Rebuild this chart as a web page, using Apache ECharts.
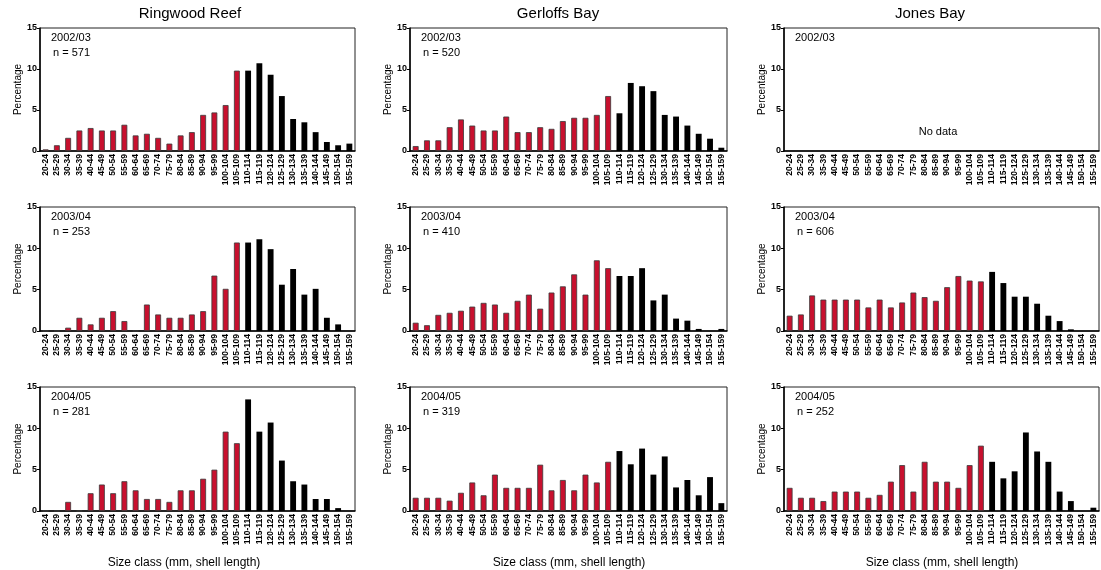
<!DOCTYPE html>
<html><head><meta charset="utf-8">
<script src="https://cdn.jsdelivr.net/npm/echarts@6/dist/echarts.min.js"></script>
<style>html,body{margin:0;padding:0;background:#fff}#c{width:1101px;height:570px}</style>
</head><body><div id="c"></div>
<script>
const categories = ['20-24','25-29','30-34','35-39','40-44','45-49','50-54','55-59','60-64','65-69','70-74','75-79','80-84','85-89','90-94','95-99','100-104','105-109','110-114','115-119','120-124','125-129','130-134','135-139','140-144','145-149','150-154','155-159'];
const sites = ['Ringwood Reef','Gerloffs Bay','Jones Bay'];
const seasons = ['2002/03','2003/04','2004/05'];
const yTicks = [0,5,10,15];
const xName = 'Size class (mm, shell length)';
const blackFrom = '110-114';

const ringwood0203 = [0.2,0.7,1.6,2.5,2.8,2.5,2.5,3.2,1.9,2.1,1.6,0.9,1.9,2.3,4.4,4.7,5.6,9.8,9.8,10.7,9.3,6.7,3.9,3.5,2.3,1.1,0.7,0.9];
const gerloffs0203 = [0.6,1.3,1.3,2.9,3.85,3.1,2.5,2.5,4.2,2.3,2.3,2.9,2.7,3.65,4.05,4.05,4.4,6.7,4.6,8.3,7.9,7.3,4.4,4.2,3.1,2.1,1.5,0.4];
const jones0203 = [];
const ringwood0304 = [0,0,0.4,1.6,0.8,1.6,2.4,1.2,0,3.2,2.0,1.6,1.6,2.0,2.4,6.7,5.1,10.7,10.7,11.1,9.9,5.6,7.5,4.4,5.1,1.6,0.8,0];
const gerloffs0304 = [1.0,0.7,1.95,2.2,2.45,2.95,3.4,3.2,2.2,3.65,4.4,2.7,4.65,5.4,6.85,4.4,8.55,7.6,6.65,6.65,7.6,3.7,4.4,1.5,1.25,0.25,0,0.25];
const jones0304 = [1.85,2.0,4.3,3.8,3.8,3.8,3.8,2.85,3.8,2.85,3.45,4.65,4.1,3.65,5.3,6.65,6.1,6.0,7.15,5.8,4.15,4.15,3.3,1.85,1.2,0.2,0,0];
const ringwood0405 = [0,0,1.1,0,2.15,3.2,2.15,3.6,2.5,1.45,1.45,1.1,2.5,2.5,3.9,5.0,9.6,8.2,13.5,9.6,10.7,6.1,3.6,3.2,1.45,1.45,0.35,0];
const gerloffs0405 = [1.6,1.6,1.6,1.25,2.2,3.45,1.9,4.4,2.8,2.8,2.8,5.6,2.5,3.75,2.5,4.4,3.45,5.95,7.25,5.65,7.55,4.4,6.6,2.85,3.75,1.9,4.1,0.95];
const jones0405 = [2.8,1.6,1.6,1.2,2.35,2.35,2.35,1.6,1.95,3.55,5.55,2.35,5.95,3.55,3.55,2.8,5.55,7.9,5.95,3.95,4.8,9.5,7.2,5.95,2.35,1.2,0,0.4];

const sampleN = [[571,520,null],[253,410,606],[281,319,252]];
const panelData = [[ringwood0203,gerloffs0203,jones0203],[ringwood0304,gerloffs0304,jones0304],[ringwood0405,gerloffs0405,jones0405]];

const FONT = '"Liberation Sans", Arial, sans-serif';
const cols = [{left:40,width:315,title:190,xname:184},{left:410,width:317,title:558,xname:569},{left:784,width:315,title:930,xname:942}];
const rows = [{top:28,height:123},{top:207,height:124},{top:387,height:124}];
const RED = '#c8102e';
const split = categories.indexOf(blackFrom);

const grid=[], xAxis=[], yAxis=[], series=[], graphic=[];
let k=0;
for (let r=0;r<3;r++){
  for (let c=0;c<3;c++){
    const g=cols[c], rw=rows[r];
    grid.push({left:g.left,top:rw.top,width:g.width,height:rw.height,show:true,borderColor:'#222',borderWidth:1,containLabel:false});
    xAxis.push({type:'category',gridIndex:k,data:categories,
      axisLine:{show:true,lineStyle:{color:'#000',width:1.5}},
      axisTick:{show:false},
      axisLabel:{interval:0,rotate:90,fontSize:8.5,fontWeight:'bold',color:'#000',fontFamily:FONT,margin:3},
      splitLine:{show:false}});
    yAxis.push({type:'value',gridIndex:k,min:0,max:15,interval:5,
      name:'Percentage',nameLocation:'middle',nameGap:17,
      nameTextStyle:{fontSize:10,color:'#000',fontFamily:FONT},
      axisLine:{show:true,lineStyle:{color:'#000',width:1.5}},
      axisTick:{show:true,length:3,lineStyle:{color:'#000'}},
      axisLabel:{fontSize:9,fontWeight:'bold',color:'#000',fontFamily:FONT,margin:3,
        formatter:v=>yTicks.includes(v)?String(v):''},
      splitLine:{show:false}});
    const d = panelData[r][c];
    series.push({type:'bar',xAxisIndex:k,yAxisIndex:k,barWidth:'52%',animation:false,
      data:d.map((v,i)=>({value:v,itemStyle:i<split?{color:RED,borderColor:'#3a3a3a',borderWidth:0.8}:{color:'#000'}}))});
    graphic.push({type:'text',left:g.left+11,top:rw.top+4,style:{text:seasons[r],fill:'#000',font:'11px '+FONT}});
    if (sampleN[r][c]!==null){
      graphic.push({type:'text',left:g.left+13,top:rw.top+19,style:{text:'n = '+sampleN[r][c],fill:'#000',font:'11px '+FONT}});
    }
    k++;
  }
}
sites.forEach((s,c)=>{
  graphic.push({type:'text',x:cols[c].title,y:14,style:{text:s,fill:'#000',font:'15px '+FONT,align:'center',verticalAlign:'middle'}});
  graphic.push({type:'text',x:cols[c].xname,y:563,style:{text:xName,fill:'#000',font:'12px '+FONT,align:'center',verticalAlign:'middle'}});
});
graphic.push({type:'text',x:938,y:132,style:{text:'No data',fill:'#000',font:'11px '+FONT,align:'center',verticalAlign:'middle'}});

const chart = echarts.init(document.getElementById('c'),null,{renderer:'canvas'});
chart.setOption({animation:false,backgroundColor:'#fff',grid,xAxis,yAxis,series,graphic});
</script></body></html>
